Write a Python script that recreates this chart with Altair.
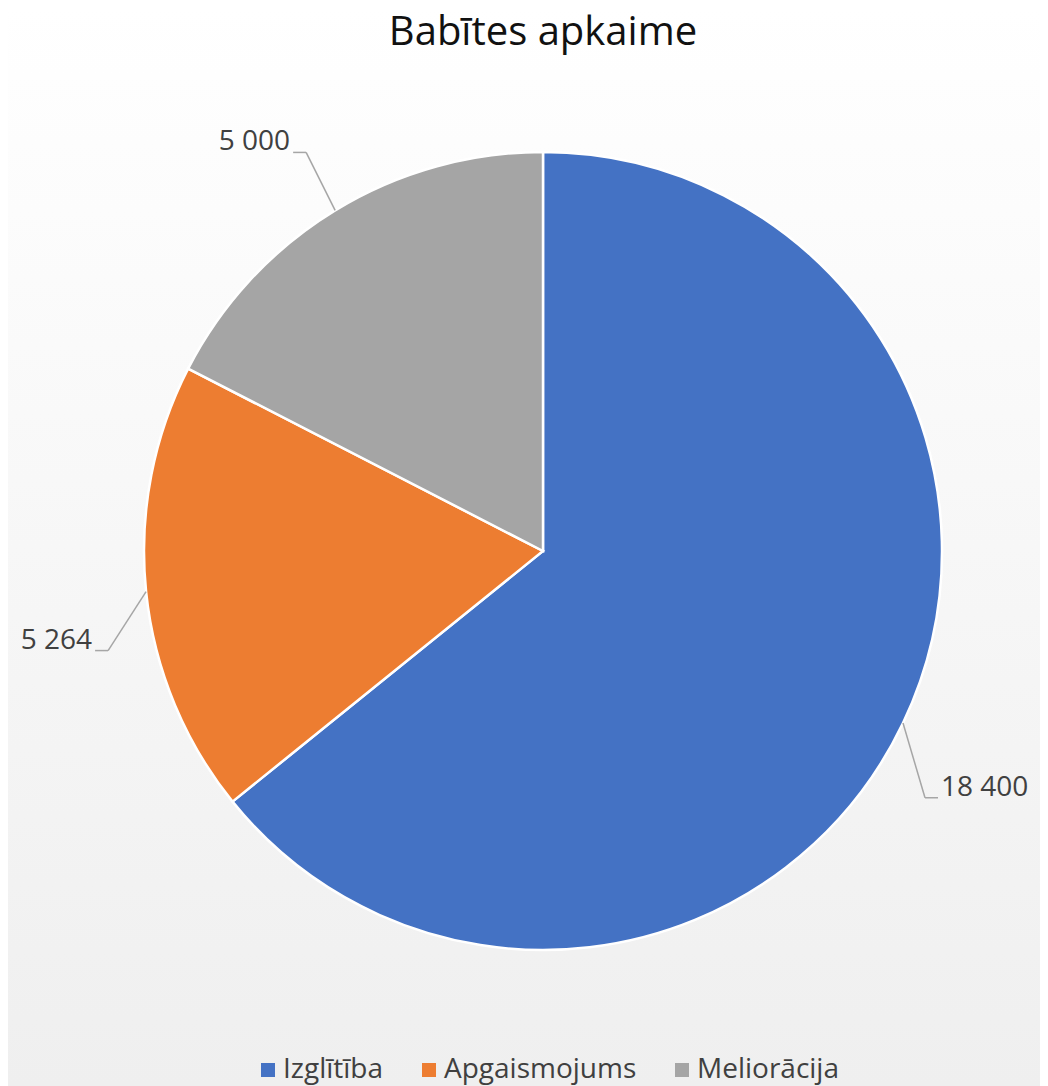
import altair as alt
import pandas as pd

categories = ["Izglītība", "Apgaismojums", "Meliorācija"]
values = [18400, 5264, 5000]
colors = ["#4472C4", "#ED7D31", "#A5A5A5"]
labels = [f"{v:,}".replace(",", " ") for v in values]
order_idx = [0, 1, 2]

df = pd.DataFrame({"cat": categories, "value": values, "label": labels, "idx": order_idx})

W, H = 1032, 1078
CX, CY, R = 535, 543, 399
FONT = "Open Sans"

bg = alt.Chart(alt.Data(values=[{}])).mark_rect(
    color=alt.LinearGradient(
        gradient="linear",
        stops=[alt.GradientStop(color="#ffffff", offset=0),
               alt.GradientStop(color="#efefef", offset=1)],
        x1=0, x2=0, y1=0, y2=1),
).encode(x=alt.value(0), x2=alt.value(W), y=alt.value(0), y2=alt.value(H))

base = alt.Chart(df)

pie = base.mark_arc(outerRadius=R, stroke="white", strokeWidth=2.5).encode(
    theta=alt.Theta("value:Q", stack=True),
    color=alt.Color(
        "cat:N",
        scale=alt.Scale(domain=categories, range=colors),
        legend=alt.Legend(
            orient="none", legendX=246, legendY=1048, direction="horizontal",
            title=None, symbolType="square", symbolSize=196, symbolStrokeWidth=0,
            labelFontSize=28, labelFont=FONT, labelColor="#404040",
            columnPadding=31, labelOffset=1, labelLimit=400),
    ),
    order=alt.Order("idx:Q"),
    x=alt.value(CX), y=alt.value(CY),
)

geo = base.transform_joinaggregate(total="sum(value)").transform_window(
    cum="sum(value)", sort=[alt.SortField("idx")], frame=[None, 0]
).transform_calculate(
    a="2*PI*(datum.cum - datum.value/2)/datum.total"
).transform_calculate(
    s="sin(datum.a) >= 0 ? 1 : -1",
    c="cos(datum.a)",
    ax=f"{CX} + {R}*sin(datum.a)",
    ay=f"{CY} - {R}*cos(datum.a)",
).transform_calculate(
    ex="datum.ax + (datum.s > 0 ? 22 : (datum.c >= 0 ? -29 : -38))",
    ey="datum.ay + (datum.c >= 0 ? -58 : 54 + 48*abs(datum.c))",
).transform_calculate(
    hx="datum.ex + datum.s*13",
    tx="datum.ex + datum.s*16",
)

lead1 = geo.mark_rule(color="#A6A6A6", strokeWidth=1.5).encode(
    x=alt.X("ax:Q", scale=None, axis=None),
    y=alt.Y("ay:Q", scale=None, axis=None),
    x2="ex:Q", y2="ey:Q",
)
lead2 = geo.mark_rule(color="#A6A6A6", strokeWidth=1.5).encode(
    x=alt.X("ex:Q", scale=None, axis=None),
    y=alt.Y("ey:Q", scale=None, axis=None),
    x2="hx:Q", y2="ey:Q",
)
txt_r = geo.transform_filter("datum.s > 0").mark_text(
    align="left", baseline="middle", dy=-10, fontSize=28, font=FONT, color="#404040"
).encode(x=alt.X("tx:Q", scale=None, axis=None), y=alt.Y("ey:Q", scale=None, axis=None), text="label:N")
txt_l = geo.transform_filter("datum.s < 0").mark_text(
    align="right", baseline="middle", dy=-10, fontSize=28, font=FONT, color="#404040"
).encode(x=alt.X("tx:Q", scale=None, axis=None), y=alt.Y("ey:Q", scale=None, axis=None), text="label:N")

title = alt.Chart(alt.Data(values=[{}])).mark_text(
    text="Babītes apkaime", fontSize=40, font=FONT, color="#111111", baseline="middle"
).encode(x=alt.value(535), y=alt.value(25))

chart = alt.layer(bg, pie, lead1, lead2, txt_r, txt_l, title).properties(
    width=W, height=H, padding=0, autosize=alt.AutoSizeParams(type="none"),
).configure_view(stroke=None).configure(background="white")

chart.save("out.html", embed_options={"renderer": "svg", "actions": False})
